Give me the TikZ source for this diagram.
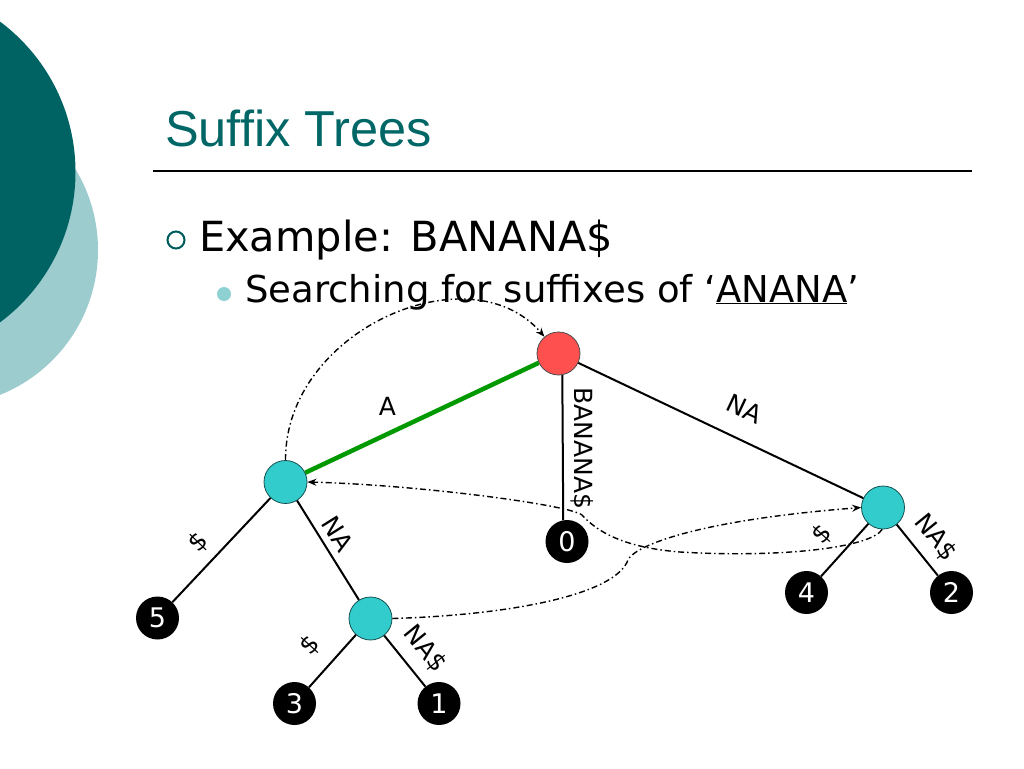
\documentclass[tikz,border=0pt]{standalone}
\usepackage{fontspec}
\setmainfont{DejaVu Sans}
\newfontfamily\titlefont{Liberation Sans}
\usetikzlibrary{arrows.meta}
\definecolor{darkteal}{RGB}{0,99,99}
\definecolor{lightteal}{RGB}{156,204,206}
\definecolor{titleteal}{RGB}{0,102,102}
\definecolor{cyannode}{RGB}{51,204,204}
\definecolor{rootred}{RGB}{255,80,80}
\definecolor{edgegreen}{RGB}{0,153,0}
\definecolor{nodeborder}{RGB}{20,80,80}
\begin{document}
\begin{tikzpicture}[x=1pt,y=-1pt,
  inner/.style={circle,fill=cyannode,draw=nodeborder,line width=0.8pt,minimum size=43pt,inner sep=0pt},
  rootnode/.style={circle,fill=rootred,draw=black!70,line width=0.8pt,minimum size=43pt,inner sep=0pt},
  leaf/.style={circle,fill=black,minimum size=43pt,inner sep=0pt,text=white,font=\fontsize{27}{27}\selectfont},
  edge/.style={line width=2pt,black},
  greenedge/.style={line width=4.5pt,edgegreen},
  elabel/.style={inner sep=0pt,font=\fontsize{25}{25}\selectfont},
  link/.style={line width=1.4pt,dash pattern=on 6pt off 3pt on 1.5pt off 3pt,-{Stealth[length=9pt,width=7pt]}}
]
\useasboundingbox (0,0) rectangle (1024,768);
\fill[white] (0,0) rectangle (1024,768);
\begin{scope}
\clip (0,0) rectangle (1024,768);
\fill[lightteal] (-58,250) circle (156pt);
\fill[darkteal] (-112,172) circle (187.5pt);
\end{scope}

% title
\node[anchor=base west,inner sep=0pt,text=titleteal,font=\titlefont\fontsize{50.5}{60}\selectfont] (title) at (165,146) {Suffix Trees};
\draw[line width=1.2pt] (153,171) -- (972,171);

% bullets
\draw[darkteal!90!black,line width=2pt] (176,240) circle (8.5pt);
\node[anchor=base west,inner sep=0pt,font=\fontsize{41.5}{48}\selectfont] (ex) at (199,251) {Example: BANANA\$};
\fill[lightteal!90!cyan] (224,294) circle (7pt);
\node[anchor=base west,inner sep=0pt,font=\fontsize{37}{42}\selectfont] (search) at (245,302) {Searching for suffixes of ‘\underline{ANANA}’};

% tree nodes
\node[rootnode] (root) at (558.5,353.5) {};
\node[inner] (left) at (285.5,482) {};
\node[inner] (right) at (883,507.5) {};
\node[inner] (mid) at (370.5,618.5) {};
\node[leaf] (l0) at (567,541.5) {0};
\node[leaf] (l5) at (157.5,618) {5};
\node[leaf] (l3) at (294.5,703.5) {3};
\node[leaf] (l1) at (439,703.5) {1};
\node[leaf] (l4) at (806.5,592.5) {4};
\node[leaf] (l2) at (951.5,592.5) {2};

% edges
\draw[greenedge] (root) -- (left);
\draw[edge] (root.-80) -- (l0.100);
\draw[edge] (root) -- (right);
\draw[edge] (left) -- (l5);
\draw[edge] (left) -- (mid);
\draw[edge] (mid) -- (l3);
\draw[edge] (mid) -- (l1);
\draw[edge] (right) -- (l4);
\draw[edge] (right) -- (l2);

% edge labels
\node[elabel] (labA) at (387.5,406) {A};
\node[elabel,rotate=-90] (labB) at (582,448.5) {BANANA\$};
\node[elabel,rotate=-25] (labNA1) at (744.5,409) {NA};
\node[elabel,rotate=46] (labD1) at (199,542) {\$};
\node[elabel,rotate=-58] (labNA2) at (337.5,534) {NA};
\node[elabel,rotate=48] (labD2) at (310,645) {\$};
\node[elabel,rotate=-51] (labNAD1) at (425,649) {NA\$};
\node[elabel,rotate=48] (labD3) at (822,534) {\$};
\node[elabel,rotate=-51] (labNAD2) at (935.5,537.5) {NA\$};

% suffix links
\draw[link] (left.north) .. controls (285,330) and (470,250) .. (root.130);
\draw[link] (right.-92) .. controls (870,548) and (780,558) .. (680,552)
  .. controls (630,548) and (600,535) .. (582,515)
  .. controls (570,505) and (420,485) .. (left.east);
\draw[link] (mid.east) .. controls (510,615) and (615,595) .. (628,560)
  .. controls (635,545) and (700,520) .. (right.west);
\end{tikzpicture}
\end{document}
